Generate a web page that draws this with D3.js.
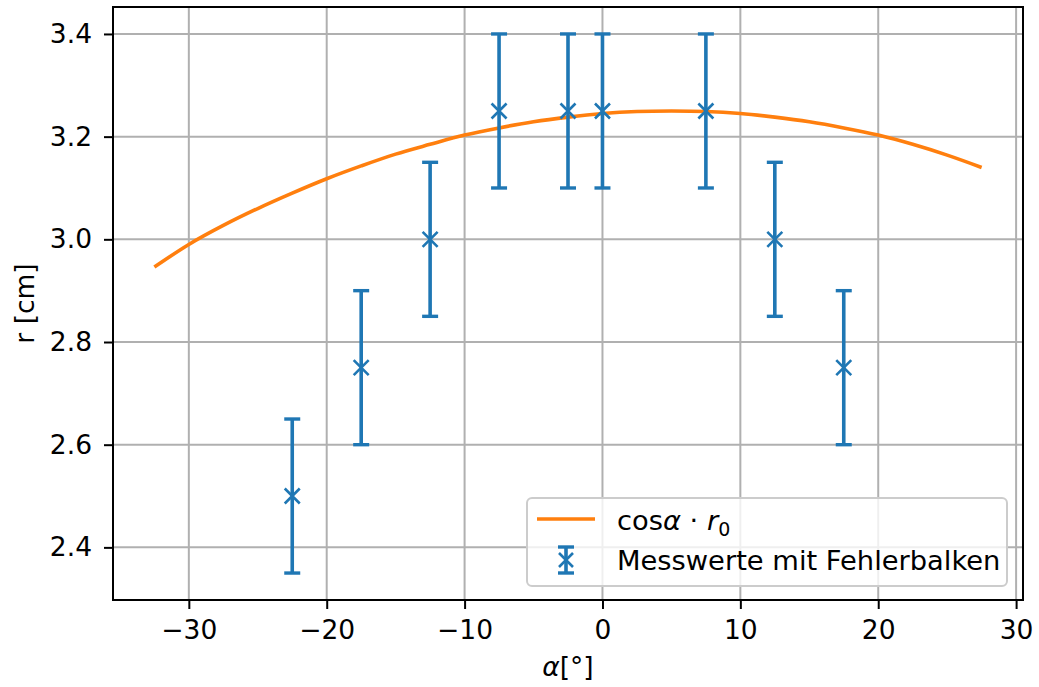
<!DOCTYPE html>
<html>
<head>
<meta charset="utf-8">
<script src="https://cdn.jsdelivr.net/npm/d3@7"></script>
<style>
  body { margin: 0; background: #fff; }
  svg text { font-family: "DejaVu Sans", sans-serif; fill: #000; }
</style>
</head>
<body>
<div id="chart"></div>
<script>
// measured points
const alpha = [-22.5, -17.5, -12.5, -7.5, -2.5, 0, 7.5, 12.5, 17.5];
const radius = [2.5, 2.75, 3.0, 3.25, 3.25, 3.25, 3.25, 3.0, 2.75];
const radiusErr = [0.15, 0.15, 0.15, 0.15, 0.15, 0.15, 0.15, 0.15, 0.15];

// fit curve
const curveAlpha = [-32.5, -30, -27.5, -25, -22.5, -20, -17.5, -15, -12.5, -10, -7.5, -5, -2.5,
  0, 2.5, 5, 7.5, 10, 12.5, 15, 17.5, 20, 22.5, 25, 27.5];
const curveR = [2.946, 2.990, 3.027, 3.060, 3.090, 3.118, 3.143, 3.166, 3.185, 3.203, 3.217, 3.229, 3.238,
  3.245, 3.249, 3.250, 3.249, 3.245, 3.238, 3.229, 3.217, 3.203, 3.185, 3.164, 3.140];

const xTicks = [-30, -20, -10, 0, 10, 20, 30];
const yTicks = [2.4, 2.6, 2.8, 3.0, 3.2, 3.4];

const W = 1039, H = 687;
const margin = { left: 113, right: 16, top: 7, bottom: 87 };
const blue = '#1f77b4', orange = '#ff7f0e';
const fs = '26.5px';

const svg = d3.select('#chart').append('svg')
  .attr('width', W).attr('height', H);

const x = d3.scaleLinear().domain([-35.5, 30.5]).range([margin.left, W - margin.right]);
const y = d3.scaleLinear().domain([2.2975, 3.4525]).range([H - margin.bottom, margin.top]);

// grid
svg.append('g').selectAll('line').data(xTicks).join('line')
  .attr('x1', d => x(d)).attr('x2', d => x(d))
  .attr('y1', margin.top).attr('y2', H - margin.bottom)
  .attr('stroke', '#b0b0b0').attr('stroke-width', 2);
svg.append('g').selectAll('line').data(yTicks).join('line')
  .attr('y1', d => y(d)).attr('y2', d => y(d))
  .attr('x1', margin.left).attr('x2', W - margin.right)
  .attr('stroke', '#b0b0b0').attr('stroke-width', 2);

// axes
const fmtX = d => d < 0 ? '\u2212' + Math.abs(d) : String(d);
const xAxis = svg.append('g')
  .attr('transform', `translate(0,${H - margin.bottom})`)
  .call(d3.axisBottom(x).tickValues(xTicks).tickFormat(fmtX).tickSize(9).tickPadding(11));
const yAxis = svg.append('g')
  .attr('transform', `translate(${margin.left},0)`)
  .call(d3.axisLeft(y).tickValues(yTicks).tickFormat(d3.format('.1f')).tickSize(9).tickPadding(12));
[xAxis, yAxis].forEach(a => {
  a.select('.domain').remove();
  a.selectAll('line').attr('stroke', '#000').attr('stroke-width', 2);
  a.selectAll('text').style('font-size', fs).attr('fill', '#000');
});

// fit line
const line = d3.line().x((d, i) => x(curveAlpha[i])).y(d => y(d)).curve(d3.curveCatmullRom);
svg.append('path').datum(curveR)
  .attr('d', line).attr('fill', 'none')
  .attr('stroke', orange).attr('stroke-width', 3.6);

// error bars
const cap = 8;
const eb = svg.append('g').selectAll('g').data(alpha).join('g');
eb.append('line')
  .attr('x1', d => x(d)).attr('x2', d => x(d))
  .attr('y1', (d, i) => y(radius[i] - radiusErr[i]))
  .attr('y2', (d, i) => y(radius[i] + radiusErr[i]))
  .attr('stroke', blue).attr('stroke-width', 3.6);
[-1, 1].forEach(s => {
  eb.append('line')
    .attr('x1', d => x(d) - cap).attr('x2', d => x(d) + cap)
    .attr('y1', (d, i) => y(radius[i] + s * radiusErr[i]))
    .attr('y2', (d, i) => y(radius[i] + s * radiusErr[i]))
    .attr('stroke', blue).attr('stroke-width', 3.4);
});
const mk = 7.5;
eb.append('path')
  .attr('d', (d, i) => {
    const cx = x(d), cy = y(radius[i]);
    return `M${cx - mk},${cy - mk}L${cx + mk},${cy + mk}M${cx - mk},${cy + mk}L${cx + mk},${cy - mk}`;
  })
  .attr('stroke', blue).attr('stroke-width', 2.6).attr('fill', 'none');

// frame
svg.append('rect')
  .attr('x', margin.left).attr('y', margin.top)
  .attr('width', W - margin.left - margin.right)
  .attr('height', H - margin.top - margin.bottom)
  .attr('fill', 'none').attr('stroke', '#000').attr('stroke-width', 2);

// axis labels
svg.append('text')
  .attr('x', (margin.left + W - margin.right) / 2).attr('y', 676)
  .attr('text-anchor', 'middle').style('font-size', fs)
  .html('<tspan font-style="italic">α</tspan>[°]');
svg.append('text')
  .attr('transform', `translate(34,${(margin.top + H - margin.bottom) / 2}) rotate(-90)`)
  .attr('text-anchor', 'middle').style('font-size', fs)
  .text('r [cm]');

// legend
const lfs = '27.3px';
const lg = svg.append('g').attr('transform', 'translate(527,498)');
lg.append('rect').attr('width', 480).attr('height', 88).attr('rx', 5)
  .attr('fill', 'rgba(255,255,255,0.8)').attr('stroke', '#cccccc').attr('stroke-width', 2);
lg.append('line').attr('x1', 10).attr('x2', 68).attr('y1', 21).attr('y2', 21)
  .attr('stroke', orange).attr('stroke-width', 3.6);
const lt = lg.append('text').attr('x', 90).attr('y', 32).style('font-size', lfs);
lt.append('tspan').text('cos');
lt.append('tspan').attr('font-style', 'italic').text('α');
lt.append('tspan').text(' · ');
lt.append('tspan').attr('font-style', 'italic').text('r');
lt.append('tspan').attr('dy', 6).style('font-size', '19px').text('0');
// errorbar legend symbol
const sx = 39, sy = 62;
lg.append('line').attr('x1', sx).attr('x2', sx).attr('y1', sy - 13).attr('y2', sy + 13)
  .attr('stroke', blue).attr('stroke-width', 3.6);
[-13, 13].forEach(o => lg.append('line')
  .attr('x1', sx - 8).attr('x2', sx + 8).attr('y1', sy + o).attr('y2', sy + o)
  .attr('stroke', blue).attr('stroke-width', 3.4));
lg.append('path')
  .attr('d', `M${sx - 7},${sy - 7}L${sx + 7},${sy + 7}M${sx - 7},${sy + 7}L${sx + 7},${sy - 7}`)
  .attr('stroke', blue).attr('stroke-width', 2.6);
lg.append('text').attr('x', 90).attr('y', 72).style('font-size', lfs)
  .text('Messwerte mit Fehlerbalken');
</script>
</body>
</html>
